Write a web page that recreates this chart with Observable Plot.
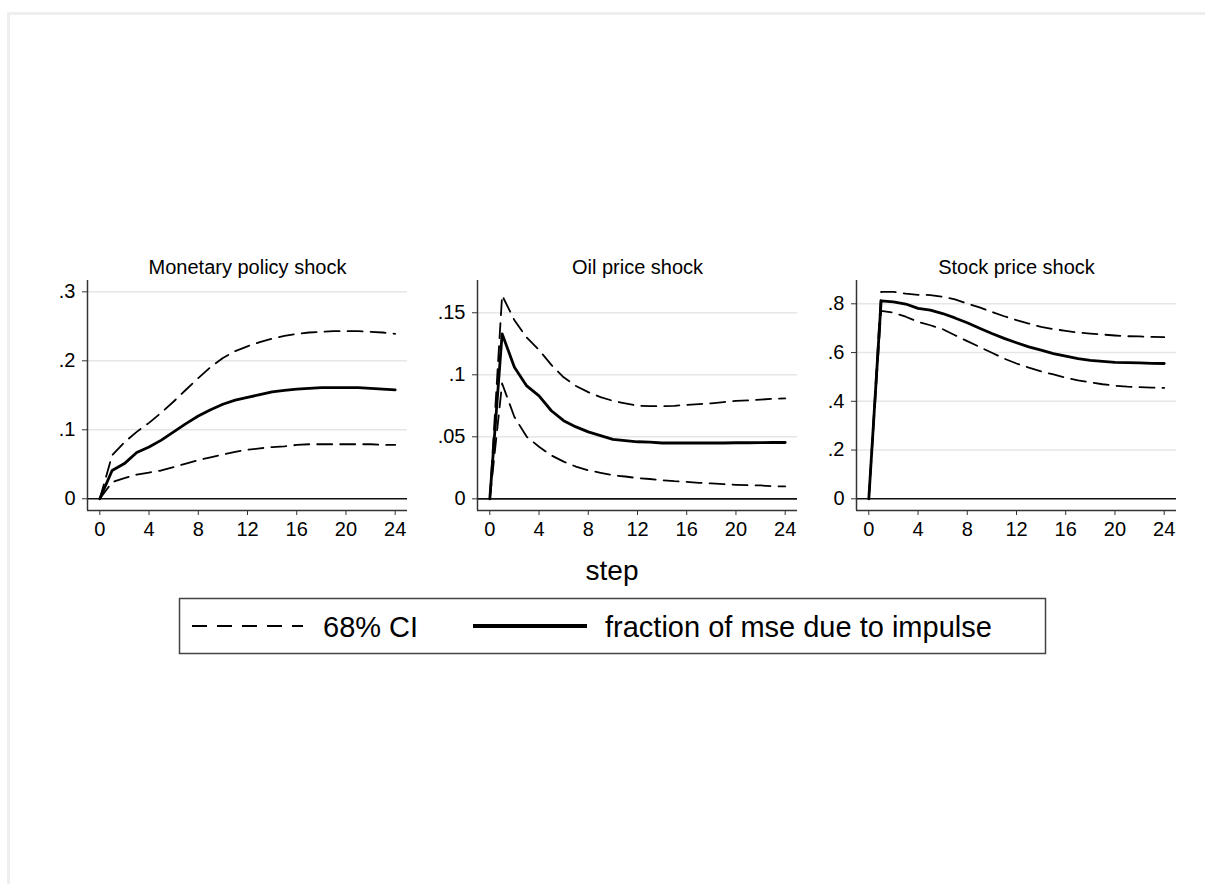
<!DOCTYPE html>
<html><head><meta charset="utf-8">
<script src="https://cdn.jsdelivr.net/npm/d3@7"></script>
<script src="https://cdn.jsdelivr.net/npm/@observablehq/plot@0.6"></script>
<style>
body{margin:0;background:#fff;}
#wrap{position:relative;width:1205px;height:884px;background:#fff;overflow:hidden;font-family:"Liberation Sans",Arial,Helvetica,sans-serif;color:#000;}
#frame{position:absolute;left:7px;top:12px;right:-10px;bottom:-10px;border-top:3px solid #eeeeee;border-left:3px solid #eeeeee;}
.panel{position:absolute;top:240px;}
#overlay{position:absolute;left:0;top:0;}
</style></head>
<body>
<div id="wrap"><div id="frame"></div></div>
<script>
// ---- data ----
const steps = [0,1,2,3,4,5,6,7,8,9,10,11,12,13,14,15,16,17,18,19,20,21,22,23,24];
const titles = ["Monetary policy shock", "Oil price shock", "Stock price shock"];
const xTicks = [0,4,8,12,16,20,24];

const mpMse = [0,0.041,0.051,0.067,0.075,0.085,0.097,0.109,0.120,0.129,0.137,0.143,0.147,0.151,0.155,0.157,0.159,0.160,0.161,0.161,0.161,0.161,0.160,0.159,0.158];
const mpHi  = [0,0.063,0.082,0.097,0.110,0.125,0.141,0.158,0.175,0.191,0.204,0.214,0.221,0.227,0.232,0.236,0.239,0.241,0.242,0.243,0.243,0.243,0.242,0.241,0.239];
const mpLo  = [0,0.024,0.030,0.035,0.038,0.041,0.046,0.051,0.056,0.060,0.064,0.068,0.071,0.073,0.075,0.076,0.078,0.079,0.079,0.079,0.079,0.079,0.079,0.078,0.078];

const oilMse = [0,0.133,0.106,0.091,0.083,0.071,0.063,0.058,0.054,0.051,0.048,0.047,0.046,0.0457,0.045,0.045,0.045,0.045,0.045,0.045,0.0452,0.0452,0.0453,0.0454,0.0454];
const oilHi  = [0,0.164,0.144,0.130,0.120,0.108,0.098,0.091,0.086,0.082,0.079,0.077,0.075,0.0747,0.0747,0.075,0.0758,0.0763,0.077,0.078,0.079,0.0793,0.080,0.0806,0.081];
const oilLo  = [0,0.093,0.066,0.050,0.042,0.035,0.030,0.026,0.023,0.021,0.019,0.018,0.0167,0.016,0.015,0.0142,0.0137,0.0129,0.0124,0.0118,0.0113,0.011,0.0108,0.0102,0.010];

const stMse = [0,0.812,0.808,0.799,0.781,0.774,0.760,0.742,0.722,0.700,0.678,0.658,0.640,0.623,0.610,0.596,0.585,0.575,0.568,0.564,0.560,0.559,0.558,0.556,0.555];
const stHi  = [0,0.849,0.849,0.842,0.837,0.836,0.829,0.818,0.801,0.785,0.767,0.749,0.733,0.719,0.705,0.696,0.689,0.682,0.678,0.674,0.670,0.667,0.666,0.664,0.663];
const stLo  = [0,0.771,0.764,0.747,0.726,0.712,0.696,0.671,0.647,0.623,0.599,0.575,0.555,0.538,0.523,0.510,0.497,0.486,0.478,0.470,0.464,0.460,0.458,0.456,0.455];

const yTicks1 = [0,0.1,0.2,0.3];
const yTicks2 = [0,0.05,0.1,0.15];
const yTicks3 = [0,0.2,0.4,0.6,0.8];
const yDomain1 = [-0.017, 0.3164];
const yDomain2 = [-0.0094, 0.1760];
const yDomain3 = [-0.048, 0.8956];
const xDomain = [-1, 25];

const legendLabels = ["68% CI", "fraction of mse due to impulse"];
const xTitle = "step";

// ---- drawing ----
const FONT = '"Liberation Sans", Arial, Helvetica, sans-serif';
const fmt = d => d === 0 ? "0" : d3.format(".2~f")(d).replace(/^0\./, ".");
const rows = arr => steps.map((s, i) => ({step: s, value: arr[i]}));

function panel(title, mse, lo, hi, yTicks, yDomain, left) {
  const svg = Plot.plot({
    width: 420, height: 320,
    marginLeft: 87, marginRight: 13, marginTop: 40, marginBottom: 50,
    x: {domain: xDomain, label: null},
    y: {domain: yDomain, label: null},
    style: {fontSize: "20px", fontFamily: FONT, color: "#000", background: "transparent", overflow: "visible"},
    marks: [
      Plot.gridY(yTicks.filter(d => d !== 0), {stroke: "#e6e6e6", strokeOpacity: 1, strokeWidth: 1.5}),
      Plot.ruleY([0], {stroke: "#111", strokeWidth: 1.6}),
      Plot.ruleX([xDomain[0]], {stroke: "#333", strokeWidth: 1.5}),
      Plot.ruleY([yDomain[0]], {stroke: "#333", strokeWidth: 1.5}),
      Plot.axisY(yTicks, {tickFormat: fmt, tickSize: 5, tickPadding: 7, stroke: "#333", fill: "#000", fontSize: 20, label: null}),
      Plot.axisX(xTicks, {tickFormat: d => String(d), tickSize: 5, tickPadding: 6, stroke: "#333", fill: "#000", fontSize: 20, label: null}),
      Plot.line(rows(hi), {x: "step", y: "value", stroke: "#000", strokeWidth: 1.8, strokeDasharray: "15,8"}),
      Plot.line(rows(lo), {x: "step", y: "value", stroke: "#000", strokeWidth: 1.8, strokeDasharray: "15,8"}),
      Plot.line(rows(mse), {x: "step", y: "value", stroke: "#000", strokeWidth: 2.8}),
      Plot.text([title], {text: d => d, frameAnchor: "top", lineAnchor: "bottom", dy: -7, fontSize: 20, fill: "#000"})
    ]
  });
  svg.classList.add("panel");
  svg.style.left = left + "px";
  document.getElementById("wrap").appendChild(svg);
}

panel(titles[0], mpMse, mpLo, mpHi, yTicks1, yDomain1, 0);
panel(titles[1], oilMse, oilLo, oilHi, yTicks2, yDomain2, 390);
panel(titles[2], stMse, stLo, stHi, yTicks3, yDomain3, 769);

// x title + legend
const ns = "http://www.w3.org/2000/svg";
const ov = document.createElementNS(ns, "svg");
ov.setAttribute("id", "overlay");
ov.setAttribute("width", 1205);
ov.setAttribute("height", 884);
ov.style.fontFamily = FONT;
function el(tag, attrs, text) {
  const e = document.createElementNS(ns, tag);
  for (const k in attrs) e.setAttribute(k, attrs[k]);
  if (text != null) e.textContent = text;
  ov.appendChild(e);
  return e;
}
el("text", {x: 612, y: 580, "text-anchor": "middle", "font-size": 28, fill: "#000"}, xTitle);
el("rect", {x: 179.5, y: 598.5, width: 866, height: 55, fill: "#fff", stroke: "#444", "stroke-width": 1.5});
el("line", {x1: 192, x2: 303, y1: 626, y2: 626, stroke: "#000", "stroke-width": 2, "stroke-dasharray": "15,10"});
el("text", {x: 323, y: 637, "font-size": 29, fill: "#000"}, legendLabels[0]);
el("line", {x1: 473, x2: 587, y1: 626, y2: 626, stroke: "#000", "stroke-width": 4});
el("text", {x: 605, y: 637, "font-size": 29, fill: "#000"}, legendLabels[1]);
document.getElementById("wrap").appendChild(ov);
</script>
</body></html>
